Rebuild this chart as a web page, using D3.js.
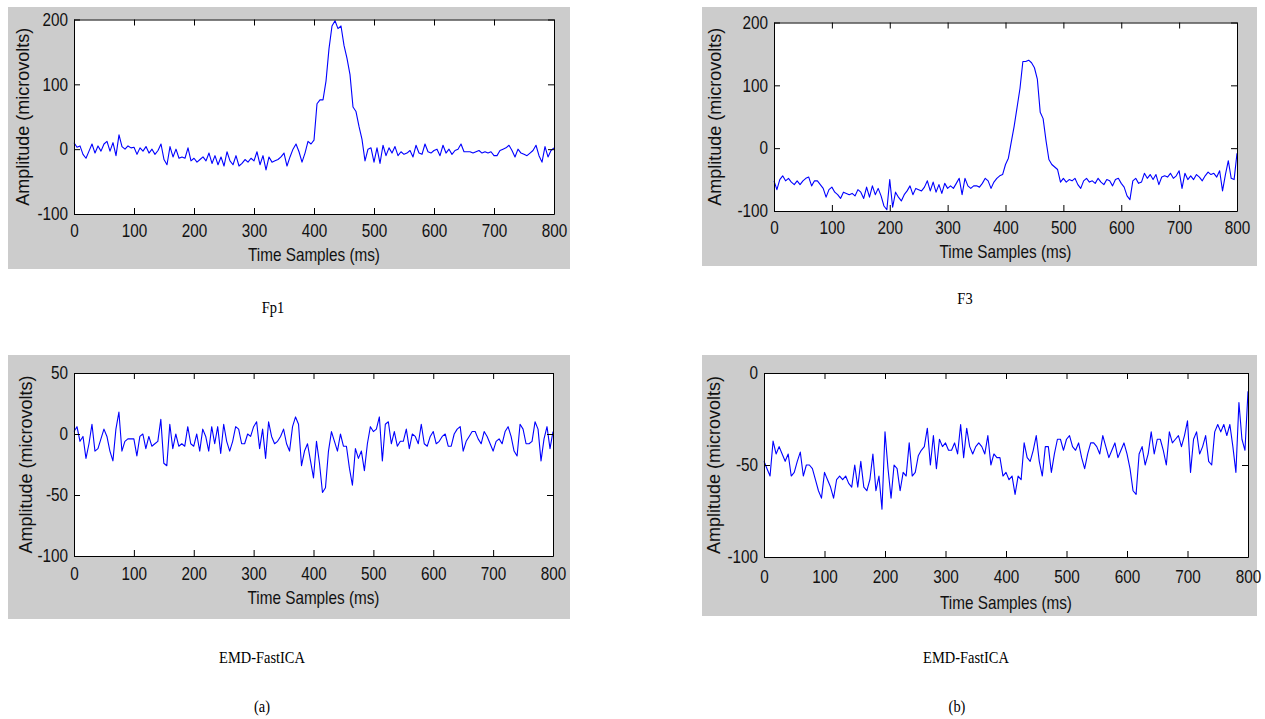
<!DOCTYPE html>
<html>
<head>
<meta charset="utf-8">
<script src="https://cdn.jsdelivr.net/npm/d3@7"></script>
<style>
  body { margin: 0; background: #fff; }
  svg { display: block; }
</style>
</head>
<body>
<svg width="1265" height="719"></svg>
<script>
// sampling step of the traces (ms), values every 5 ms
let sampleStep = 5
let xTicks = [0, 100, 200, 300, 400, 500, 600, 700, 800]
let yTicksRaw = [-100, 0, 100, 200]
let yTicksA = [-100, -50, 0, 50]
let yTicksB = [-100, -50, 0]

// raw EEG, channel Fp1
let fp1 = [
  10, 3, 5, -8, -14, -3, 8, -6, 5, -3,
  8, 12, -3, 10, -10, 22, 4, 0, 5, 2,
  3, -8, 2, -3, 4, -6, 0, -8, -2, 8,
  -16, -24, 4, -12, 0, -14, -12, -14, 2, -18,
  -14, -20, -16, -12, -18, -6, -22, -10, -24, -12,
  -26, -4, -18, -24, -10, -26, -22, -16, -20, -14,
  -18, -4, -24, -10, -32, -12, -20, -18, -16, -12,
  -6, -26, -12, 0, 8, -4, -20, -6, 12, 8,
  14, 70, 76, 76, 105, 155, 190, 198, 186, 190,
  160, 140, 115, 65, 58, 35, 15, -18, 0, 2,
  -20, 2, -22, 6, -10, 2, -6, 4, -10, -4,
  -8, -6, -2, -12, 6, -6, -8, 8, -4, -6,
  -2, 0, -10, 6, -6, 0, -8, -2, 0, 8,
  -4, -4, -4, -6, -4, -2, -6, -4, -6, -4,
  -10, -10, -2, 0, 2, 6, -2, -12, 0, -6,
  -8, -10, -6, -2, 6, -10, -20, 4, -12, -2,
  2
]

// raw EEG, channel F3
let f3 = [
  -52, -66, -50, -44, -52, -48, -54, -58, -52, -58,
  -52, -48, -46, -60, -52, -52, -58, -64, -78, -66,
  -62, -70, -74, -80, -70, -72, -74, -72, -76, -66,
  -70, -80, -62, -78, -60, -74, -64, -76, -92, -98,
  -50, -94, -70, -78, -84, -74, -68, -60, -74, -64,
  -66, -68, -62, -52, -68, -54, -70, -58, -72, -56,
  -64, -60, -64, -56, -48, -74, -48, -60, -64, -60,
  -60, -62, -56, -48, -52, -64, -54, -48, -44, -42,
  -26, -16, 10, 35, 65, 95, 138, 138, 140, 136,
  128, 110, 57, 47, 12, -18, -26, -30, -34, -54,
  -48, -54, -50, -52, -48, -58, -64, -52, -48, -54,
  -52, -56, -48, -54, -58, -50, -52, -60, -50, -48,
  -56, -62, -76, -82, -52, -48, -56, -54, -40, -48,
  -42, -50, -42, -58, -46, -44, -46, -40, -48, -44,
  -36, -64, -40, -50, -44, -50, -42, -46, -52, -44,
  -38, -42, -40, -46, -36, -68, -42, -20, -48, -50,
  -8
]

// after EMD-FastICA, Fp1
let emdFp1 = [
  2, 6, -6, -2, -20, -8, 8, -14, -12, -4,
  4, -2, -14, -22, 4, 18, -14, -6, -4, -4,
  -4, -18, -2, 0, -12, -2, -10, -8, -6, 12,
  -24, -26, 8, -12, 0, -10, -8, -10, 6, -8,
  -10, 0, -14, 4, -2, -14, 6, -8, 6, -16,
  8, -6, -14, -6, 6, 4, -8, -8, 0, -2,
  6, 10, -12, 4, -20, 10, -2, -8, -6, -2,
  4, -8, -14, 6, 14, 8, -26, -14, -8, -22,
  -36, -6, -24, -48, -44, -14, 2, -6, -14, 0,
  -10, -10, -28, -42, -12, -20, -14, -30, -8, 6,
  2, 4, 14, -22, 8, 10, -8, 2, -10, -6,
  -6, 4, -12, 0, -2, -8, 8, -8, -10, -2,
  2, -8, -6, -2, 0, -10, -10, 0, 4, 6,
  -14, -6, -2, 2, 2, -4, -8, 2, -2, -8,
  -14, -6, -4, -8, 2, 6, -2, -14, -18, 8,
  4, -8, -8, -6, 10, 4, -22, -4, 6, -12,
  2
]

// after EMD-FastICA, F3
let emdF3 = [
  -48, -52, -56, -37, -44, -40, -44, -48, -44, -56,
  -54, -48, -43, -56, -50, -50, -52, -58, -64, -68,
  -54, -58, -62, -68, -58, -56, -58, -56, -60, -62,
  -50, -62, -48, -62, -64, -58, -44, -64, -56, -74,
  -32, -52, -68, -50, -52, -64, -54, -56, -38, -56,
  -54, -45, -42, -40, -30, -50, -34, -52, -36, -40,
  -38, -42, -42, -38, -44, -28, -46, -30, -40, -44,
  -40, -38, -40, -44, -34, -50, -44, -46, -46, -56,
  -54, -58, -56, -66, -56, -58, -38, -46, -48, -42,
  -34, -48, -56, -40, -40, -54, -44, -36, -36, -42,
  -36, -34, -40, -42, -38, -46, -52, -44, -38, -38,
  -40, -44, -34, -40, -46, -42, -38, -46, -42, -38,
  -44, -52, -64, -66, -44, -40, -50, -44, -32, -44,
  -36, -36, -42, -50, -32, -38, -36, -34, -40, -34,
  -26, -54, -36, -32, -44, -40, -34, -48, -50, -32,
  -28, -32, -28, -34, -28, -40, -54, -16, -36, -42,
  -10
]

let xLabel = "Time Samples (ms)"
let yLabel = "Amplitude (microvolts)"

let svg = d3.select("svg")

let panels = [
  {values: fp1, domain: [-100, 200], ticks: yTicksRaw,
   bg: [8, 7, 570, 269], plot: [74, 19.5, 554, 214], ylabX: 22.5, tickPad: 10, xlabOff: 47},
  {values: f3, domain: [-100, 200], ticks: yTicksRaw,
   bg: [702, 7, 1257, 266], plot: [774, 22.5, 1237, 211], ylabX: 715, tickPad: 10, xlabOff: 47},
  {values: emdFp1, domain: [-100, 50], ticks: yTicksA,
   bg: [8, 355, 570, 619], plot: [74, 373, 553, 556], ylabX: 26, tickPad: 11, xlabOff: 48},
  {values: emdF3, domain: [-100, 0], ticks: yTicksB,
   bg: [702, 355, 1257, 616], plot: [764, 373, 1248, 557], ylabX: 714, tickPad: 13, xlabOff: 52}
]

let captions = [
  {text: "Fp1", x: 273, y: 313},
  {text: "F3", x: 965, y: 304},
  {text: "EMD-FastICA", x: 262, y: 663},
  {text: "EMD-FastICA", x: 966, y: 663},
  {text: "(a)", x: 262, y: 712},
  {text: "(b)", x: 957, y: 712}
]

let sansFont = "'Liberation Sans', Arial, sans-serif"
let squeeze = "scale(0.85,1)"
let plain = d => String(d)   // keep the hyphen-minus like the original

panels.forEach(drawPanel)

function styleAxis(sel){
  sel.attr("font-family", sansFont).attr("font-size", 18)
  sel.selectAll("text").attr("fill", "#111").attr("transform", squeeze)
}

function drawPanel(p){
  let [l, t, r, b] = p.plot
  let g = svg.append("g")

  g.append("rect")
      .attr("x", p.bg[0]).attr("y", p.bg[1])
      .attr("width", p.bg[2] - p.bg[0]).attr("height", p.bg[3] - p.bg[1])
      .attr("fill", "#cccccc")

  g.append("rect")
      .attr("x", l).attr("y", t)
      .attr("width", r - l).attr("height", b - t)
      .attr("fill", "#fff")

  let x = d3.scaleLinear().domain([0, 800]).range([l, r])
  let y = d3.scaleLinear().domain(p.domain).range([b, t])

  let line = d3.line()
      .x((d, i) => x(i * sampleStep))
      .y(d => y(d))

  g.append("path")
      .datum(p.values)
      .attr("d", line)
      .attr("fill", "none")
      .attr("stroke", "#0000ff")
      .attr("stroke-width", 1.1)
      .attr("stroke-linejoin", "round")

  let axes = g.append("g").style("color", "#000")

  axes.append("g")
      .attr("transform", "translate(0," + b + ")")
      .call(d3.axisBottom(x).tickValues(xTicks).tickFormat(plain)
        .tickSizeInner(-6).tickSizeOuter(0).tickPadding(p.tickPad))
      .call(styleAxis)

  axes.append("g")
      .attr("transform", "translate(0," + t + ")")
      .call(d3.axisTop(x).tickValues(xTicks).tickSizeInner(-6).tickSizeOuter(0).tickFormat(""))

  axes.append("g")
      .attr("transform", "translate(" + l + ",0)")
      .call(d3.axisLeft(y).tickValues(p.ticks).tickFormat(plain)
        .tickSizeInner(-6).tickSizeOuter(0).tickPadding(7))
      .call(styleAxis)

  axes.append("g")
      .attr("transform", "translate(" + r + ",0)")
      .call(d3.axisRight(y).tickValues(p.ticks).tickSizeInner(-6).tickSizeOuter(0).tickFormat(""))

  g.append("text")
      .attr("transform", "translate(" + ((l + r) / 2) + "," + (b + p.xlabOff) + ") " + squeeze)
      .attr("text-anchor", "middle")
      .attr("font-family", sansFont)
      .attr("font-size", 18)
      .attr("fill", "#111")
      .text(xLabel)

  g.append("text")
      .attr("transform", "translate(" + p.ylabX + "," + ((t + b) / 2) + ") rotate(-90)")
      .attr("text-anchor", "middle")
      .attr("dy", "0.35em")
      .attr("font-family", sansFont)
      .attr("font-size", 18)
      .attr("fill", "#111")
      .text(yLabel)
}

svg.selectAll(".caption")
  .data(captions)
  .enter().append("text")
    .attr("class", "caption")
    .attr("transform", d => "translate(" + d.x + "," + d.y + ") " + squeeze)
    .attr("text-anchor", "middle")
    .attr("font-family", "'Liberation Serif', 'Times New Roman', serif")
    .attr("font-size", 17)
    .attr("fill", "#000")
    .text(d => d.text)
</script>
</body>
</html>
